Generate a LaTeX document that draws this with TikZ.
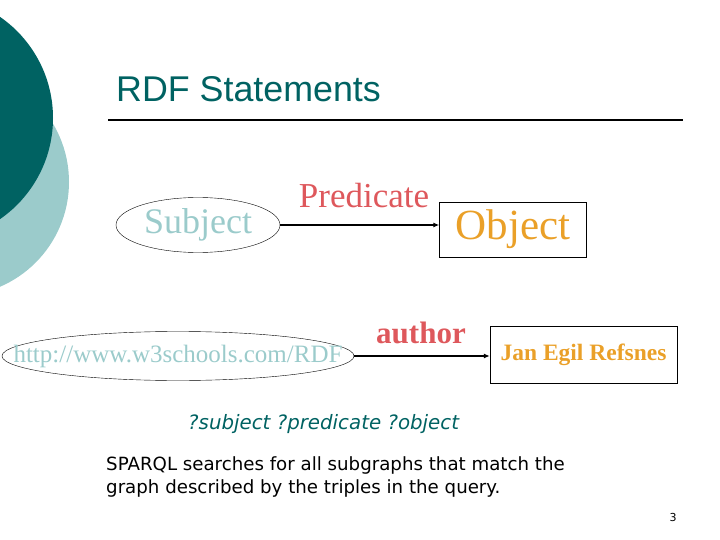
\documentclass[tikz,border=0pt]{standalone}
\usepackage{fontspec}
\setmainfont{Liberation Serif}
\newfontfamily\titlefont{Liberation Sans}
\newfontfamily\bodyfont{DejaVu Sans}
\usetikzlibrary{positioning, arrows.meta, shapes.geometric}

\definecolor{tealdark}{RGB}{0,98,98}
\definecolor{teallight}{RGB}{155,203,203}
\definecolor{predred}{RGB}{222,88,92}
\definecolor{objorange}{RGB}{234,160,40}

\begin{document}
\begin{tikzpicture}[x=1pt, y=-1pt,
        subj/.style={draw, ellipse, thin, inner sep=0pt, text=teallight},
        obj/.style={draw, rectangle, thin, inner sep=0pt, text=objorange},
        pred/.style={text=predred, inner sep=0pt},
        arrow/.style={-{Latex[length=6pt,width=5pt]}, line width=1.3pt},
        body/.style={inner sep=0pt, font=\bodyfont\fontsize{18.2}{23}\selectfont}
    ]
    \useasboundingbox (0,0) rectangle (720,540);
    \clip (0,0) rectangle (720,540);

    % --- background circles ---
    \fill[teallight] (-45,182) circle (114);
    \fill[tealdark] (-70,118) circle (123);

    % --- title ---
    \node[anchor=base west, inner sep=0pt, text=tealdark, font=\titlefont\fontsize{35.8}{40}\selectfont] (title) at (116,102) {RDF Statements};
    \draw[line width=1.5pt] (108,120) -- (683,120);

    % --- generic triple ---
    \node[subj, minimum width=164pt, minimum height=55pt, font=\fontsize{36}{40}\selectfont] (subject) at (198,225) {Subject};
    \node[obj, minimum width=147pt, minimum height=55pt, font=\fontsize{43}{50}\selectfont] (object) at (513,229.5) {Object};
    \node[pred, font=\fontsize{35}{40}\selectfont] (predicate) at (364,196) {Predicate};
    \draw[arrow] (subject.east) -- (subject.east -| object.west);

    % --- example triple ---
    \node[subj, inner xsep=-44pt, minimum width=352pt, minimum height=49pt, font=\fontsize{25}{28}\selectfont] (url) at (178,356) {http://www.w3schools.com/RDF};
    \node[obj, minimum width=187pt, minimum height=57pt, font=\bfseries\fontsize{23.5}{28}\selectfont] (author) at (583.5,354.5) {Jan Egil Refsnes};
    \node[pred, font=\bfseries\fontsize{31}{36}\selectfont] (authorlbl) at (421,333) {author};
    \draw[arrow] (url.east) -- (url.east -| author.west);

    % --- query text ---
    \node[body, anchor=base west, text=tealdark, font=\bodyfont\itshape\fontsize{19.8}{22}\selectfont] (query) at (188,429) {?subject ?predicate ?object};
    \node[body, anchor=north west, align=left] (sparql) at (106,456) {SPARQL searches for all subgraphs that match the\\graph described by the triples in the query.};
    \node[inner sep=0pt, font=\bodyfont\fontsize{11}{13}\selectfont] (pagenum) at (673,517) {3};
\end{tikzpicture}
\end{document}
